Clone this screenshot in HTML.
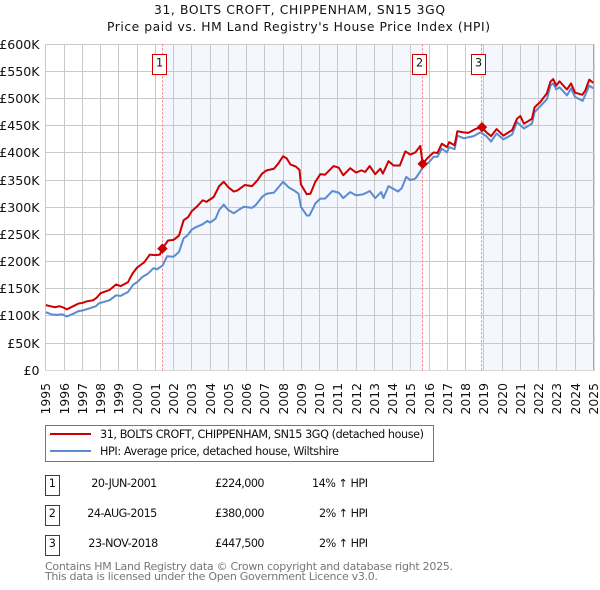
<!DOCTYPE html>
<html lang="en">
<head>
<meta charset="utf-8">
<title>31, BOLTS CROFT, CHIPPENHAM, SN15 3GQ</title>
<style>
html,body{margin:0;padding:0;background:#fff;}
svg{display:block;font-family:"DejaVu Sans",sans-serif;}
text{fill:#111;}
</style>
</head>
<body>
<svg id="chart" width="600" height="590" viewBox="0 0 600 590" xmlns="http://www.w3.org/2000/svg">
  <rect x="0" y="0" width="600" height="590" fill="#fff"/>
  <g id="bands"></g>
  <g id="grid"></g>
  <g id="sale-lines"></g>
  <g id="series"></g>
  <g id="markers"></g>
  <g id="axis-labels"></g>
  <g id="sale-flags"></g>

  <text x="299.5" y="14" font-size="12.3" text-anchor="middle" textLength="291" lengthAdjust="spacing">31, BOLTS CROFT, CHIPPENHAM, SN15 3GQ</text>
  <text x="298.5" y="31" font-size="12.3" text-anchor="middle" textLength="383" lengthAdjust="spacing">Price paid vs. HM Land Registry's House Price Index (HPI)</text>

  <g>
    <rect x="45.5" y="425.5" width="388" height="36" fill="#fff" stroke="#777" stroke-width="1"/>
    <line x1="50" x2="91" y1="434" y2="434" stroke="#cc0000" stroke-width="2"/>
    <text x="100" y="438" font-size="11.2" textLength="324" lengthAdjust="spacing">31, BOLTS CROFT, CHIPPENHAM, SN15 3GQ (detached house)</text>
    <line x1="50" x2="91" y1="451" y2="451" stroke="#5b8bd0" stroke-width="2"/>
    <text x="100" y="455" font-size="11.2" textLength="239" lengthAdjust="spacing">HPI: Average price, detached house, Wiltshire</text>
  </g>

  <g font-size="11.2">
    <rect x="45.5" y="475.5" width="14" height="20" fill="#fff" stroke="#cc0000" stroke-width="1"/>
    <text x="52.3" y="487" text-anchor="middle">1</text>
    <text x="124.3" y="487" text-anchor="middle" textLength="66" lengthAdjust="spacing">20-JUN-2001</text>
    <text x="264.5" y="487" text-anchor="end" textLength="49.5" lengthAdjust="spacing">£224,000</text>
    <text x="368" y="487" text-anchor="end" textLength="56" lengthAdjust="spacing">14% ↑ HPI</text>

    <rect x="45.5" y="505.5" width="14" height="20" fill="#fff" stroke="#cc0000" stroke-width="1"/>
    <text x="52.3" y="517" text-anchor="middle">2</text>
    <text x="122.3" y="517" text-anchor="middle" textLength="70" lengthAdjust="spacing">24-AUG-2015</text>
    <text x="264.5" y="517" text-anchor="end" textLength="49.5" lengthAdjust="spacing">£380,000</text>
    <text x="368" y="517" text-anchor="end" textLength="49" lengthAdjust="spacing">2% ↑ HPI</text>

    <rect x="45.5" y="535.5" width="14" height="20" fill="#fff" stroke="#cc0000" stroke-width="1"/>
    <text x="52.3" y="547" text-anchor="middle">3</text>
    <text x="123.3" y="547" text-anchor="middle" textLength="70" lengthAdjust="spacing">23-NOV-2018</text>
    <text x="264.5" y="547" text-anchor="end" textLength="49.5" lengthAdjust="spacing">£447,500</text>
    <text x="368" y="547" text-anchor="end" textLength="49" lengthAdjust="spacing">2% ↑ HPI</text>
  </g>

  <text x="45" y="570" font-size="11" style="fill:#777" textLength="408" lengthAdjust="spacing">Contains HM Land Registry data © Crown copyright and database right 2025.</text>
  <text x="45" y="580" font-size="11" style="fill:#777" textLength="333" lengthAdjust="spacing">This data is licensed under the Open Government Licence v3.0.</text>
</svg>

<script>
const xTickYears = [1995,1996,1997,1998,1999,2000,2001,2002,2003,2004,2005,2006,2007,2008,2009,2010,2011,2012,2013,2014,2015,2016,2017,2018,2019,2020,2021,2022,2023,2024,2025];
const yTickValues = [0,50,100,150,200,250,300,350,400,450,500,550,600];
const yTickLabels = ["£0","£50K","£100K","£150K","£200K","£250K","£300K","£350K","£400K","£450K","£500K","£550K","£600K"];

const priceYears = [1995,1995.25,1995.5,1995.75,1996,1996.15,1996.5,1996.8,1997,1997.25,1997.6,1997.8,1998,1998.5,1998.85,1999.1,1999.5,1999.75,2000,2000.4,2000.7,2001,2001.25,2001.39,2001.7,2002,2002.3,2002.55,2002.8,2003,2003.3,2003.6,2003.8,2004.2,2004.5,2004.75,2005,2005.3,2005.5,2005.9,2006.3,2006.6,2006.85,2007.1,2007.5,2007.75,2008,2008.2,2008.4,2008.7,2008.9,2008.98,2009.3,2009.5,2009.77,2010.04,2010.3,2010.77,2011.05,2011.3,2011.68,2012,2012.3,2012.5,2012.75,2013.05,2013.33,2013.47,2013.78,2014.05,2014.4,2014.7,2014.97,2015.25,2015.52,2015.65,2015.9,2016.25,2016.46,2016.7,2016.98,2017.1,2017.4,2017.55,2017.9,2018.15,2018.53,2018.9,2019.14,2019.4,2019.7,2020.07,2020.55,2020.82,2021,2021.2,2021.45,2021.64,2021.78,2022.1,2022.46,2022.65,2022.8,2022.97,2023.15,2023.46,2023.56,2023.78,2024,2024.4,2024.56,2024.78,2025];
const priceValues = [120,118,116,118,115,112,118,123,124,127,129,134,142,148,158,155,162,178,189,199,213,212,213,224,239,240,248,276,282,293,302,313,310,319,339,347,337,329,331,341,339,350,362,368,371,381,394,390,379,375,369,342,324,325,347,361,360,376,373,359,372,364,368,365,376,361,371,362,385,377,377,403,397,401,413,380,390,401,400,417,411,420,414,440,438,437,444,447.5,438,431,444,432,442,463,468,454,459,463,484,494,510,531,536,524,532,520,517,528,511,507,515,535,529];

const hpiYears = [1995,1995.3,1995.6,1995.9,1996.15,1996.5,1996.8,1997,1997.4,1997.75,1997.9,1998.2,1998.5,1998.85,1999.1,1999.5,1999.8,2000,2000.3,2000.6,2000.9,2001.1,2001.4,2001.65,2002,2002.3,2002.55,2002.75,2003,2003.2,2003.6,2003.85,2004,2004.3,2004.5,2004.75,2005,2005.3,2005.6,2005.85,2006.3,2006.5,2006.85,2007.1,2007.5,2007.75,2008,2008.3,2008.6,2008.85,2008.98,2009.3,2009.45,2009.77,2010.04,2010.3,2010.7,2011.05,2011.3,2011.68,2012,2012.4,2012.75,2013.05,2013.38,2013.5,2013.78,2014.3,2014.5,2014.75,2014.97,2015.25,2015.5,2015.65,2016,2016.25,2016.46,2016.7,2016.98,2017.1,2017.4,2017.55,2017.9,2018.45,2018.8,2019.14,2019.4,2019.7,2020.07,2020.55,2020.82,2021.2,2021.64,2021.78,2022.46,2022.65,2022.8,2022.97,2023.15,2023.56,2023.78,2024,2024.42,2024.78,2025];
const hpiValues = [107,103,102,103,99,104,109,110,114,118,123,126,129,138,137,144,158,162,172,178,188,186,193,210,209,218,243,248,259,263,269,275,272,279,295,305,295,289,296,301,299,304,319,325,327,337,347,337,331,325,301,285,285,307,316,316,330,327,317,328,322,324,330,317,328,317,339,329,335,356,350,353,365,374,383,393,393,408,401,411,407,432,427,431,438,431,421,436,425,434,457,445,454,475,499,524,528,517,521,506,519,503,496,524,519];

const saleNumbers = ["1","2","3"];
const saleYears = [2001.39,2015.65,2018.9];
const saleValues = [224,380,447.5];

const plotLeft = 45.8, pxPerYear = 18.25, plotBottom = 370.3, pxPerK = 0.5433;
function xAxis(year){ return plotLeft + (year - 1995) * pxPerYear; }
function yAxis(k){ return plotBottom - k * pxPerK; }
function snap(v){ return Math.round(v - 0.5) + 0.5; }

const NS = "http://www.w3.org/2000/svg";
function make(tag, parentId, attrs, text){
  const el = document.createElementNS(NS, tag);
  for (const k in attrs) el.setAttribute(k, attrs[k]);
  if (text !== undefined) el.textContent = text;
  document.getElementById(parentId).appendChild(el);
  return el;
}
const xMax = xAxis(2025);
const yTop = yAxis(600);

// Shaded periods
const band1 = make("rect", "bands", {x: xAxis(saleYears[0]), y: yTop, width: xAxis(saleYears[1]) - xAxis(saleYears[0]), height: plotBottom - yTop, fill: "#f4f7fe"});


const band2 = make("rect", "bands", {x: xAxis(saleYears[2]), y: yTop, width: xMax - xAxis(saleYears[2]), height: plotBottom - yTop, fill: "#f4f7fe"});



// Grid and tick labels
xTickYears.forEach(function(year){
  const x = snap(xAxis(year));
  const line = make("line", "grid", {x1: x, x2: x, y1: yTop, y2: plotBottom, stroke: year === 2025 ? "#a8a8a8" : "#c9c9c9", "stroke-width": 1});
  
  
  const label = make("text", "axis-labels", {transform: "translate(" + (x + 4.5) + ",383) rotate(-90)", "font-size": 12.4, "text-anchor": "end"}, String(year));
  
  
});
yTickValues.forEach(function(value, i){
  const y = snap(yAxis(value));
  const line = make("line", "grid", {x1: snap(plotLeft), x2: 595, y1: y, y2: y, stroke: value === 0 ? "#d8d8d8" : "#c9c9c9", "stroke-width": 1});
  
  
  const label = make("text", "axis-labels", {x: 39.5, y: y + 4.5, "font-size": 12.6, "text-anchor": "end"}, yTickLabels[i]);
  
  
});
const rightEdge = make("line", "grid", {x1: 594.5, x2: 594.5, y1: yTop, y2: plotBottom, stroke: "#dcdcdc", "stroke-width": 1});



// Sale reference lines
saleYears.forEach(function(year){
  const x = snap(xAxis(year));
  const line = make("line", "sale-lines", {x1: x, x2: x, y1: yTop, y2: plotBottom, stroke: "#f77", "stroke-width": 1, "stroke-dasharray": "2 2"});
  
  
});

// Series
function pathFrom(years, values){
  return years.map(function(year, i){
    return (i ? "L" : "M") + xAxis(year).toFixed(2) + " " + yAxis(values[i]).toFixed(2);
  }).join("");
}
const hpiLine = make("path", "series", {d: pathFrom(hpiYears, hpiValues), fill: "none", stroke: "#5b8bd0", "stroke-width": 2, "stroke-linejoin": "round"});


const priceLine = make("path", "series", {d: pathFrom(priceYears, priceValues), fill: "none", stroke: "#cc0000", "stroke-width": 2, "stroke-linejoin": "round"});



// Sale markers and numbered flags
saleYears.forEach(function(year, i){
  const cx = xAxis(year), cy = yAxis(saleValues[i]), r = 5.2;
  const marker = make("path", "markers", {d: "M" + cx + " " + (cy - r) + "L" + (cx + r) + " " + cy + "L" + cx + " " + (cy + r) + "L" + (cx - r) + " " + cy + "Z", fill: "#cc0000"});
  
  
  const bx = snap(cx) - 10;
  const flag = make("rect", "sale-flags", {x: bx, y: 54.5, width: 14, height: 20, fill: "#fff", stroke: "#cc0000", "stroke-width": 1});
  
  
  const num = make("text", "sale-flags", {x: bx + 7, y: 66.5, "font-size": 11.2, "text-anchor": "middle"}, saleNumbers[i]);
  
  
});
</script>
</body>
</html>
